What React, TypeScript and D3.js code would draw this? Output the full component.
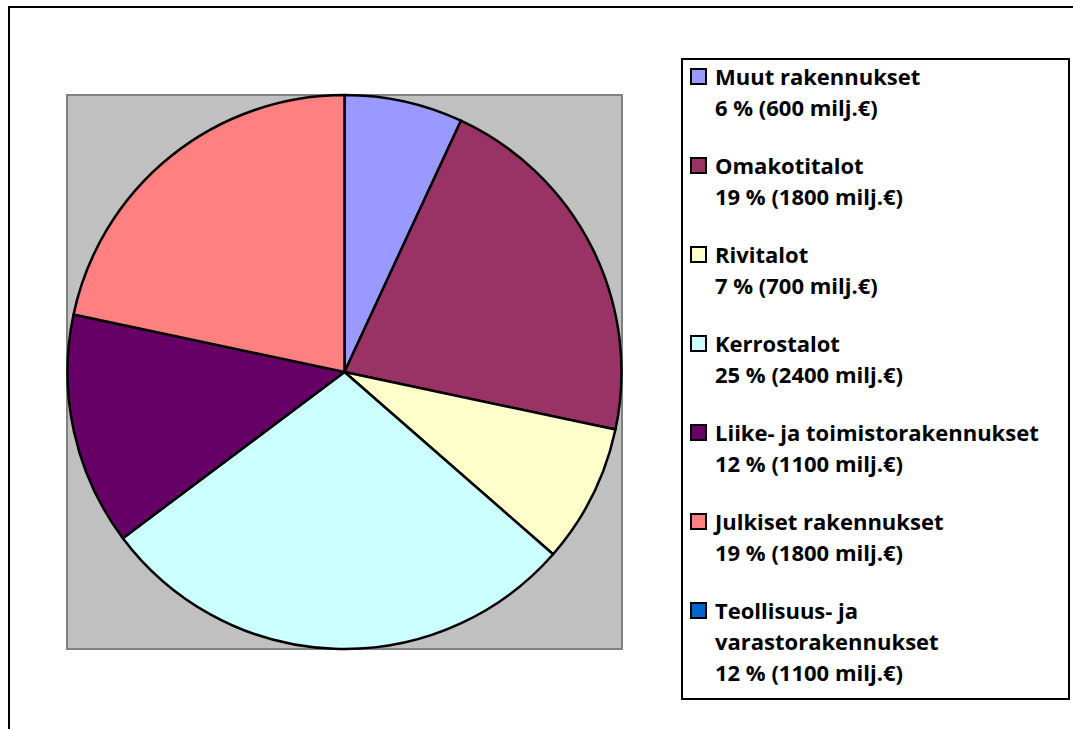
import React, { useEffect, useRef } from 'react'
import * as d3 from 'd3'

// legend entries and values (milj. €)
const categories = [
  'Muut rakennukset',
  'Omakotitalot',
  'Rivitalot',
  'Kerrostalot',
  'Liike- ja toimistorakennukset',
  'Julkiset rakennukset',
  'Teollisuus- ja varastorakennukset',
]
const amounts = [600, 1800, 700, 2400, 1100, 1800, 1100]
const percents = [6, 19, 7, 25, 12, 19, 12]
// slice sizes as measured from the pie angles; the last point is not drawn
const sliceValues = [580, 1800, 680, 2380, 1140, 1820, 0]
const colors = ['#9999FF', '#993366', '#FFFFCC', '#CCFFFF', '#660066', '#FF8080', '#0066CC']
// legend label line breaks, as in the original
const labelLines = [
  ['Muut rakennukset'],
  ['Omakotitalot'],
  ['Rivitalot'],
  ['Kerrostalot'],
  ['Liike- ja toimistorakennukset'],
  ['Julkiset rakennukset'],
  ['Teollisuus- ja', 'varastorakennukset'],
]

function drawChart(el: SVGSVGElement) {
  const svg = d3.select(el)
  svg.selectAll('*').remove()

  const W = 1073, H = 729

  // outer chart area frame
  svg.append('rect')
    .attr('x', 9).attr('y', 7)
    .attr('width', W + 20).attr('height', H + 20)
    .attr('fill', 'white')
    .attr('stroke', 'black')
    .attr('stroke-width', 2)

  // plot area
  const plot = { x: 67, y: 95, w: 555, h: 554 }
  svg.append('rect')
    .attr('x', plot.x).attr('y', plot.y)
    .attr('width', plot.w).attr('height', plot.h)
    .attr('fill', '#C0C0C0')
    .attr('stroke', '#808080')
    .attr('stroke-width', 2)

  const cx = plot.x + plot.w / 2, cy = plot.y + plot.h / 2
  const r = plot.h / 2

  const pie = d3.pie<number>().sort(null).value(d => d)
  const arc = d3.arc<d3.PieArcDatum<number>>().innerRadius(0).outerRadius(r)

  const g = svg.append('g').attr('transform', `translate(${cx},${cy})`)
  g.selectAll('path')
    .data(pie(sliceValues).filter(d => d.value > 0))
    .enter()
    .append('path')
    .attr('d', arc)
    .attr('fill', d => colors[d.index])
    .attr('stroke', 'black')
    .attr('stroke-width', 2.5)
    .attr('stroke-linejoin', 'round')

  // legend
  const lg = { x: 682, y: 59, w: 387, h: 640 }
  svg.append('rect')
    .attr('x', lg.x).attr('y', lg.y)
    .attr('width', lg.w).attr('height', lg.h)
    .attr('fill', 'white')
    .attr('stroke', 'black')
    .attr('stroke-width', 2)

  const lineH = 31, pitch = 89, firstY = 77

  const items = svg.append('g').selectAll('g')
    .data(categories)
    .enter()
    .append('g')
    .attr('transform', (d, i) => `translate(0,${firstY + i * pitch})`)

  items.append('rect')
    .attr('x', 691).attr('y', -8)
    .attr('width', 15).attr('height', 15)
    .attr('fill', (d, i) => colors[i])
    .attr('stroke', 'black')
    .attr('stroke-width', 2)

  items.each(function (d, i) {
    const lines = labelLines[i].concat([`${percents[i]} % (${amounts[i]} milj.€)`])
    d3.select(this).selectAll('text')
      .data(lines)
      .enter()
      .append('text')
      .attr('x', 715)
      .attr('y', (t, j) => j * lineH)
      .attr('dy', '0.36em')
      .attr('font-family', '"Open Sans", sans-serif')
      .attr('font-weight', 'bold')
      .attr('font-size', 22)
      .attr('fill', 'black')
      .text(t => t)
  })
}

export default function App() {
  const ref = useRef<SVGSVGElement>(null)
  useEffect(() => {
    if (ref.current) drawChart(ref.current)
  }, [])
  return (
    <svg
      ref={ref}
      width={1073}
      height={729}
      style={{ position: 'absolute', left: 0, top: 0, background: 'white' }}
    />
  )
}
